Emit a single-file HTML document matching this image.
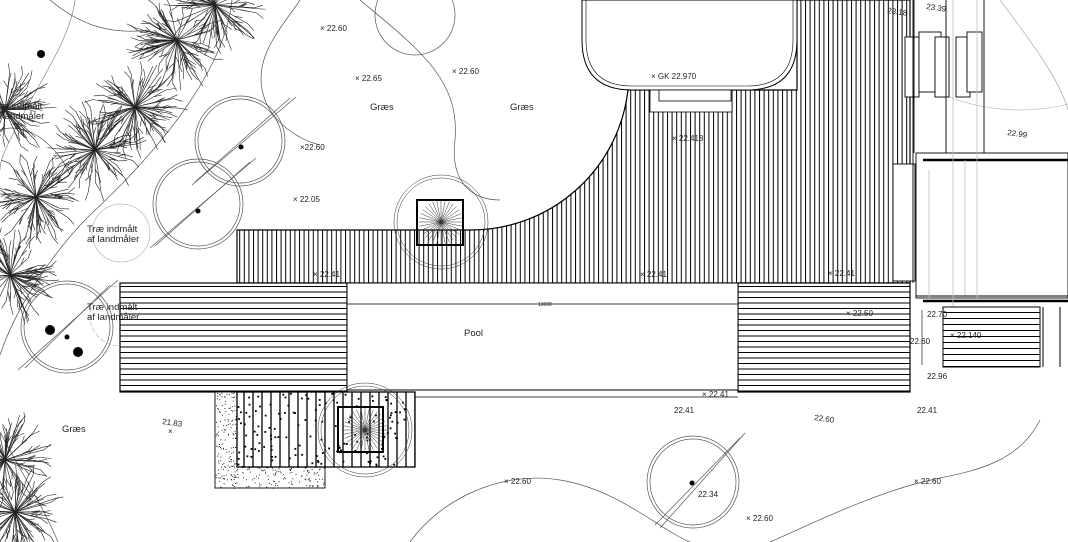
<!DOCTYPE html>
<html><head><meta charset="utf-8"><style>
html,body{margin:0;padding:0;background:#fff;}
svg{display:block;font-family:"Liberation Sans",sans-serif;}
text{font-size:8px;fill:#222;}
.lab{font-size:9.5px;}
</style></head><body>
<svg id="s" width="1068" height="542" viewBox="0 0 1068 542" xmlns="http://www.w3.org/2000/svg">
<defs>
<pattern id="vh" width="4.6" height="10" patternUnits="userSpaceOnUse"><rect width="4.6" height="10" fill="#fff"/><line x1="0.5" y1="0" x2="0.5" y2="10" stroke="#000" stroke-width="1"/></pattern>
<pattern id="hh" width="10" height="5.5" patternUnits="userSpaceOnUse"><rect width="10" height="5.5" fill="#fff"/><line x1="0" y1="0.5" x2="10" y2="0.5" stroke="#000" stroke-width="1"/></pattern>
<pattern id="vh2" width="9" height="10" patternUnits="userSpaceOnUse"><rect width="9" height="10" fill="#fff"/><line x1="1" y1="0" x2="1" y2="10" stroke="#000" stroke-width="1.3"/></pattern>
<pattern id="hh2" width="10" height="6" patternUnits="userSpaceOnUse"><rect width="10" height="6" fill="#fff"/><line x1="0" y1="0.5" x2="10" y2="0.5" stroke="#000" stroke-width="1"/></pattern>
</defs>
<rect width="1068" height="542" fill="#fff"/>
<g id="bg" fill="none" stroke="#555" stroke-width="0.7">
 <path d="M232 0 C225 70 160 150 90 215 C50 255 15 310 0 355"/>
 <path d="M0 432 C20 470 45 510 58 542"/>
 <path d="M75 0 C70 40 40 80 15 130 C5 150 0 160 0 170" stroke="#6a8db3"/>
 <path d="M300 0 C280 30 250 60 265 100 C275 125 300 140 320 145"/>
 <path d="M360 0 C420 50 460 80 455 140 C450 180 470 200 500 200"/>
 <path d="M410 542 C440 500 500 470 560 480 C620 490 660 530 690 542"/>
 <path d="M770 542 C820 520 880 490 940 478 C980 470 1020 460 1040 420"/>
 <path d="M1000 0 C1030 40 1060 80 1068 110" stroke="#aaa"/>
 <path d="M50 0 C80 25 110 35 150 30"/>
 <path d="M0 130 C30 120 60 150 70 175"/>
 <circle cx="240" cy="141" r="45"/><circle cx="240" cy="141" r="42"/>
 <circle cx="198" cy="204" r="45"/><circle cx="198" cy="204" r="42"/>
 <circle cx="67" cy="327" r="46"/><circle cx="67" cy="327" r="43"/>
 <circle cx="693" cy="482" r="46"/><circle cx="693" cy="482" r="43"/>
 <circle cx="415" cy="15" r="40"/>
 <path d="M192 185 L296 97 M150 248 L256 158 M18 370 L118 280 M660 528 L745 433"/>
 <path d="M195 182 L290 98 M155 246 L250 162 M25 368 L110 285 M655 525 L740 438"/>
 <circle cx="121" cy="233" r="29" stroke="#9c9"/>
 <circle cx="120" cy="316" r="30" stroke="#9c9" stroke-dasharray="5 2"/>
 <circle cx="1020" cy="-90" r="200" stroke="#bbb"/>
</g>
<g fill="#000">
 <circle cx="41" cy="54" r="4"/><circle cx="241" cy="147" r="2.5"/><circle cx="198" cy="211" r="2.5"/>
 <circle cx="50" cy="330" r="5"/><circle cx="78" cy="352" r="5"/><circle cx="67" cy="337" r="2.5"/><circle cx="692" cy="483" r="2.5"/>
</g>
<g id="trees" stroke="#222" stroke-width="0.6"></g>

<path d="M237 230 L470 230 A158 158 0 0 0 628 90 L797 90 L797 0 L910 0 L910 283 L237 283 Z" fill="url(#vh)" stroke="#000" stroke-width="1.2"/>
<path d="M582 0 L582 40 Q582 90 632 90 L747 90 Q797 90 797 40 L797 0 Z" fill="#fff" stroke="#000" stroke-width="1"/>
<path d="M586 0 L586 40 Q586 86 632 86 L747 86 Q793 86 793 40 L793 0" fill="none" stroke="#000" stroke-width="0.6"/>
<rect x="650" y="90" width="82" height="22" fill="#fff" stroke="#000" stroke-width="0.8"/>
<rect x="659" y="90" width="72" height="11" fill="#fff" stroke="#000" stroke-width="0.8"/>
<g fill="#fff" stroke="#000" stroke-width="0.9">
 <rect x="893" y="164" width="22" height="117"/>
 <rect x="916" y="153" width="152" height="145"/>
 <rect x="905" y="37" width="14" height="60"/><rect x="919" y="32" width="22" height="60"/><rect x="935" y="37" width="14" height="60"/>
 <rect x="956" y="37" width="14" height="60"/><rect x="967" y="32" width="15" height="60"/>
</g>
<g stroke="#000" stroke-width="0.9">
 <line x1="913" y1="0" x2="913" y2="283"/><line x1="914" y1="0" x2="914" y2="153"/>
 <line x1="946" y1="0" x2="946" y2="153"/><line x1="984" y1="0" x2="984" y2="153"/>
 <line x1="923" y1="160" x2="1068" y2="160" stroke-width="2.5"/>
 <line x1="923" y1="301" x2="1068" y2="301" stroke-width="2.5"/>
 <line x1="916" y1="296" x2="1068" y2="296"/>
</g>
<g stroke="#bbb" stroke-width="0.8">
 <line x1="953" y1="0" x2="953" y2="310"/><line x1="965" y1="160" x2="965" y2="295"/><line x1="977" y1="0" x2="977" y2="300"/><line x1="929" y1="170" x2="929" y2="300"/>
</g>
<rect x="943" y="307" width="97" height="60" fill="url(#hh2)" stroke="#000"/>
<line x1="1043" y1="307" x2="1043" y2="367" stroke="#000"/><line x1="1060" y1="307" x2="1060" y2="367" stroke="#000"/>
<line x1="922" y1="310" x2="922" y2="365" stroke="#000" stroke-width="0.6"/>

<rect x="120" y="283" width="227" height="109" fill="url(#hh)" stroke="#000" stroke-width="1.2"/>
<rect x="738" y="283" width="172" height="109" fill="url(#hh)" stroke="#000" stroke-width="1.2"/>
<rect x="347" y="283" width="391" height="107" fill="#fff" stroke="#000" stroke-width="1"/>
<line x1="347" y1="304" x2="738" y2="304" stroke="#000" stroke-width="0.8"/>
<line x1="415" y1="397" x2="738" y2="397" stroke="#000" stroke-width="0.8"/>
<rect x="215" y="392" width="110" height="96" fill="#fff" stroke="#000" stroke-width="0.9"/>
<g id="stip" fill="#000"></g>
<rect x="237" y="392" width="178" height="75" fill="url(#vh2)" stroke="#000" stroke-width="1.3"/>
<g id="stip2" fill="#000"></g>
<g id="pits" stroke="#333" stroke-width="0.5" fill="none">
 <circle cx="441" cy="222" r="47"/><circle cx="441" cy="222" r="44"/>
 <circle cx="365" cy="430" r="47"/><circle cx="365" cy="430" r="44"/>
</g>
<rect x="417" y="200" width="46" height="45" fill="none" stroke="#000" stroke-width="2"/>
<rect x="338" y="407" width="45" height="45" fill="none" stroke="#000" stroke-width="2"/>

<g>
<text x="320" y="31">× 22.60</text><text x="355" y="81">× 22.65</text><text x="452" y="74">× 22.60</text>
<text x="370" y="110" class="lab">Græs</text><text x="510" y="110" class="lab">Græs</text>
<text x="300" y="150">×22.60</text><text x="293" y="202">× 22.05</text>
<text x="651" y="79">× GK 22.970</text><text x="672" y="141">× 22.418</text>
<text x="313" y="277">× 22.41</text><text x="640" y="277">× 22.41</text><text x="828" y="276">× 22.41</text>
<text x="538" y="306" style="font-size:5px">13000</text>
<text x="464" y="336" class="lab">Pool</text>
<text x="846" y="316">× 22.50</text><text x="927" y="317">22.70</text><text x="910" y="344">22.60</text>
<text x="950" y="338">× 22.140</text><text x="927" y="379">22.96</text>
<text x="702" y="397">× 22.41</text><text x="674" y="413">22.41</text><text x="814" y="420" transform="rotate(8 814 420)">22.60</text><text x="917" y="413">22.41</text>
<text x="162" y="424" transform="rotate(8 162 424)">21.83</text><text x="168" y="434">×</text>
<text x="62" y="432" class="lab">Græs</text>
<text x="504" y="484">× 22.60</text><text x="698" y="497">22.34</text><text x="746" y="521">× 22.60</text><text x="914" y="484">× 22.60</text>
<text x="1007" y="135" transform="rotate(8 1007 135)">22.99</text><text x="926" y="9" transform="rotate(8 926 9)">23.39</text><text x="887" y="13" transform="rotate(8 887 13)">23.18</text>
<text x="87" y="232" class="lab">Træ indmålt</text><text x="87" y="242" class="lab">af landmåler</text>
<text x="87" y="310" class="lab">Træ indmålt</text><text x="87" y="320" class="lab">af landmåler</text>
<text x="-8" y="109" class="lab">Træ indmålt</text><text x="-8" y="119" class="lab">af landmåler</text>
</g>
</svg>
<script>
var NS="http://www.w3.org/2000/svg";
function L(g,x1,y1,x2,y2){var l=document.createElementNS(NS,"line");l.setAttribute("x1",x1);l.setAttribute("y1",y1);l.setAttribute("x2",x2);l.setAttribute("y2",y2);g.appendChild(l);}
var seed=7;function r(){seed=(seed*9301+49297)%233280;return seed/233280;}
var tg=document.getElementById("trees");
[[177,40],[135,107],[95,150],[36,197],[10,275],[5,110],[15,512],[5,460],[215,5]].forEach(function(c){
 for(var i=0;i<60;i++){var a=r()*6.283,R=22+r()*22;var x=c[0]+Math.cos(a)*R,y=c[1]+Math.sin(a)*R;L(tg,c[0],c[1],x,y);
  var b=a+(r()-.5)*1.2;L(tg,x,y,x+Math.cos(b)*9,y+Math.sin(b)*9);
  var m=0.6;var b2=a+(r()-.5)*1.4;L(tg,c[0]+(x-c[0])*m,c[1]+(y-c[1])*m,c[0]+(x-c[0])*m+Math.cos(b2)*8,c[1]+(y-c[1])*m+Math.sin(b2)*8);}
});
var pg=document.getElementById("pits");
[[441,222],[365,430]].forEach(function(c){for(var i=0;i<32;i++){var a=i*6.283/32;L(pg,c[0],c[1],c[0]+Math.cos(a)*22,c[1]+Math.sin(a)*22);}});
function st(id,x,y,w,h,n,s){var g=document.getElementById(id);for(var i=0;i<n;i++){var e=document.createElementNS(NS,"rect");e.setAttribute("x",x+r()*w);e.setAttribute("y",y+r()*h);e.setAttribute("width",s);e.setAttribute("height",s);g.appendChild(e);}}
st("stip",215,392,110,96,700,0.9);
st("stip2",237,392,178,75,140,1.8);
</script>
</body></html>
